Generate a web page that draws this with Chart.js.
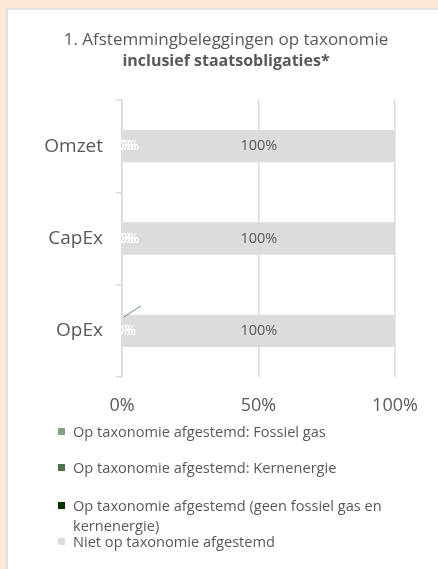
<!DOCTYPE html>
<html>
<head>
<meta charset="utf-8">
<script src="https://cdn.jsdelivr.net/npm/chart.js@4"></script>
<style>
  html, body { margin: 0; padding: 0; background: #FBE8D6; width: 438px; height: 569px; overflow: hidden; }
  #panel { position: absolute; left: 6px; top: 8px; width: 460px; height: 600px; background: #fff;
           border-top: 2px solid #DDE1E6; border-left: 2px solid #DDE1E6; }
  #wrap { position: absolute; left: 0; top: 0; width: 438px; height: 430px; }
  #legend { position: absolute; left: 0; top: 0; font-family: "Open Sans", sans-serif; font-size: 14.6px; color: #595959; }
  .li { position: absolute; left: 58px; width: 340px; line-height: 20px; white-space: normal; }
  .sw { position: absolute; left: 0; top: 7px; width: 7px; height: 7px; }
  .tx { display: block; margin-left: 15px; }
</style>
</head>
<body>
<div id="panel"></div>
<div id="wrap"><canvas id="c" width="438" height="430"></canvas></div>
<div id="legend"></div>
<script>
const categories = ["Omzet", "CapEx", "OpEx"];
const seriesNames = [
  "Op taxonomie afgestemd: Fossiel gas",
  "Op taxonomie afgestemd: Kernenergie",
  "Op taxonomie afgestemd (geen fossiel gas en kernenergie)",
  "Niet op taxonomie afgestemd"
];
const fossielGas = [0, 0, 0];
const kernenergie = [0, 0, 0];
const geenFossielKern = [0, 0, 0];
const nietAfgestemd = [100, 100, 100];
const xTicks = [0, 50, 100];
const seriesColors = ["#849F84", "#50734F", "#033303", "#DBDCDE"];
const legendTops = [421, 457, 495, 531];

const seriesValues = [fossielGas, kernenergie, geenFossielKern, nietAfgestemd];
const FONT = '"Open Sans", sans-serif';
const GRID = "#D9D9D9";

const labelPlugin = {
  id: "barLabels",
  afterLayout(chart) {
    // centre title and subtitle over the white panel
    chart.boxes.forEach(b => {
      if (b.options && b.options.text !== undefined && b.position === "top") {
        b.left = 14; b.right = 438; b.width = 424;
      }
    });
  },
  afterDatasetsDraw(chart) {
    const ctx = chart.ctx;
    ctx.save();
    ctx.textAlign = "center";
    ctx.textBaseline = "middle";
    chart.data.datasets.forEach((ds, di) => {
      const meta = chart.getDatasetMeta(di);
      meta.data.forEach((bar, i) => {
        const v = ds.data[i];
        const txt = v + "%";
        ctx.font = "14.5px " + FONT;
        if (v === 0) {
          ctx.fillStyle = "#FFFFFF";
          if (di === 2 && i === 2) {
            // moved label with leader line
            ctx.strokeStyle = "#6E8F6E";
            ctx.lineWidth = 1;
            ctx.beginPath();
            ctx.moveTo(bar.base + 2, bar.y - 14);
            ctx.lineTo(bar.base + 19, bar.y - 25);
            ctx.stroke();
          } else {
            ctx.fillText(txt, bar.base + 1 + di * 3, bar.y);
          }
        } else {
          ctx.fillStyle = "#595959";
          ctx.fillText(txt, (bar.base + bar.x) / 2, bar.y);
        }
      });
    });
    ctx.restore();
  }
};

const chart = new Chart(document.getElementById("c"), {
  type: "bar",
  data: {
    labels: categories,
    datasets: seriesNames.map((n, k) => ({
      label: n,
      data: seriesValues[k],
      backgroundColor: seriesColors[k],
      borderWidth: 0,
      categoryPercentage: 1,
      barPercentage: 0.35
    }))
  },
  options: {
    indexAxis: "y",
    responsive: false,
    animation: false,
    events: [],
    layout: { padding: { left: 0, right: 43, top: 0, bottom: 0 } },
    plugins: {
      legend: { display: false },
      tooltip: { enabled: false },
      title: {
        display: true,
        text: "1. Afstemmingbeleggingen op taxonomie",
        color: "#595959",
        font: { family: FONT, size: 17, weight: "normal", lineHeight: 1.2 },
        padding: { top: 30, bottom: 0 }
      },
      subtitle: {
        display: true,
        text: "inclusief staatsobligaties*",
        color: "#595959",
        font: { family: FONT, size: 16, weight: "bold", lineHeight: 1.2 },
        padding: { top: 1, bottom: 29.4 }
      }
    },
    scales: {
      x: {
        stacked: true,
        min: 0,
        max: 100,
        afterBuildTicks(scale) { scale.ticks = xTicks.map(v => ({ value: v })); },
        ticks: {
          callback: v => v + "%",
          color: "#595959",
          font: { family: FONT, size: 18 },
          padding: 18,
          maxRotation: 0
        },
        grid: { color: GRID, lineWidth: 1.5, drawTicks: false },
        border: { display: false },
        afterFit(scale) { scale.height = 430 - 377; }
      },
      y: {
        stacked: true,
        ticks: {
          color: "#595959",
          font: { family: FONT, size: 19 },
          padding: 13
        },
        grid: { offset: true, drawOnChartArea: false, color: GRID, lineWidth: 1.5, tickLength: 6 },
        border: { display: true, color: GRID, width: 1.5 },
        afterFit(scale) { scale.width = 122; }
      }
    }
  },
  plugins: [labelPlugin]
});

// HTML legend built from the chart's datasets
const lg = document.getElementById("legend");
chart.data.datasets.forEach((ds, k) => {
  const d = document.createElement("div");
  d.className = "li";
  d.style.top = legendTops[k] + "px";
  const sw = document.createElement("span");
  sw.className = "sw";
  sw.style.background = ds.backgroundColor;
  const tx = document.createElement("span");
  tx.className = "tx";
  tx.textContent = ds.label;
  d.appendChild(sw);
  d.appendChild(tx);
  lg.appendChild(d);
});
</script>
</body>
</html>
